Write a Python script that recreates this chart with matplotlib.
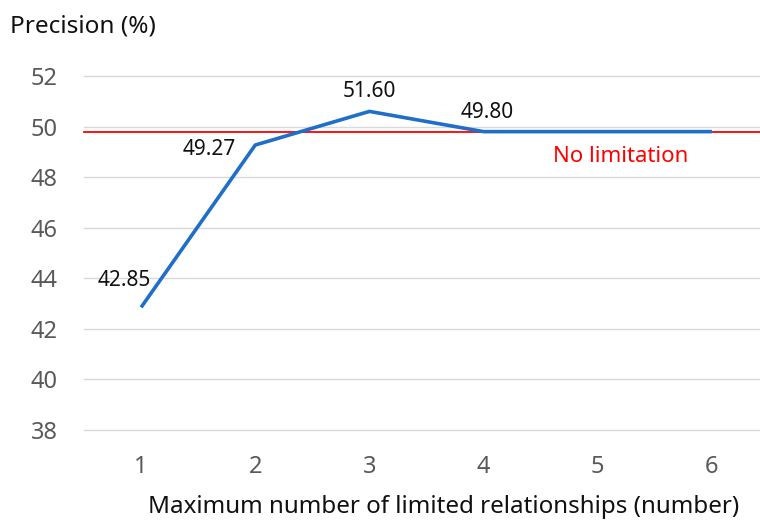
import matplotlib
matplotlib.use("Agg")
import matplotlib.pyplot as plt

plt.rcParams['font.family'] = ['Noto Sans', 'DejaVu Sans']

# data
limits = [1, 2, 3, 4, 5, 6]
precision = [42.85, 49.27, 50.6, 49.8, 49.8, 49.8]
point_labels = ["42.85", "49.27", "51.60", "49.80", "", ""]
no_limitation = 49.8
y_ticks = [38, 40, 42, 44, 46, 48, 50, 52]

# label offsets in pixels relative to each point
label_offsets = [(-17, 27), (-46, -4), (0, 20), (4, 19), (0, 0), (0, 0)]

fig = plt.figure(figsize=(7.6, 5.23), dpi=100)
ax = fig.add_axes([84 / 760, 1 - 430 / 523, (769 - 84) / 760, (430 - 76) / 523])

ax.set_xlim(0.5, 6.5)
ax.set_ylim(38, 52)
ax.set_yticks(y_ticks)
ax.set_xticks(limits)
ax.grid(axis='y', color='#d9d9d9', linewidth=1.0)
for gl in ax.get_ygridlines():
    gl.set_clip_on(False)
ax.set_axisbelow(True)
for s in ax.spines.values():
    s.set_visible(False)
ax.tick_params(length=0, labelsize=17, labelcolor='#595959')
ax.tick_params(axis='y', pad=19)
ax.tick_params(axis='x', pad=18)

ax.axhline(no_limitation, color='#ff0000', linewidth=1.3, zorder=2, clip_on=False)
ax.plot(limits, precision, color='#1f6fc8', linewidth=2.6, zorder=3,
        solid_joinstyle='round', solid_capstyle='butt')

for x, y, lab, (dx, dy) in zip(limits, precision, point_labels, label_offsets):
    if lab:
        ax.annotate(lab, (x, y), xytext=(dx, dy), textcoords='offset pixels',
                    ha='center', va='center', fontsize=15, color='#111111')

ax.text(5.2, 48.8, "No limitation", color='#ff0000', fontsize=16,
        ha='center', va='center')

fig.text(10 / 760, 1 - 27 / 523, "Precision (%)", fontsize=17.5, color='#111111',
         ha='left', va='center')
fig.text(444 / 760, 1 - 507 / 523, "Maximum number of limited relationships (number)",
         fontsize=17.4, color='#111111', ha='center', va='center')

fig.savefig("out.png", dpi=100, facecolor='white')
